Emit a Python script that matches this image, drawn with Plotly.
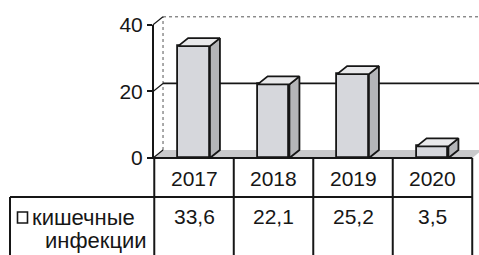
import plotly.graph_objects as go

# ---- data ----
years = ["2017", "2018", "2019", "2020"]
values = [33.6, 22.1, 25.2, 3.5]
value_labels = ["33,6", "22,1", "25,2", "3,5"]
series_lines = ["кишечные", "инфекции"]
y_ticks = [0, 20, 40]

# ---- geometry (pixels / axis units) ----
W, H = 479, 255
L, R, T, B = 153, 0, 8, 95
XR = [-0.516, 3.585]
YR = [-0.6, 45.05]
DX = 0.126      # 3-D depth, x units
DY = 2.4        # 3-D depth, value units
BW = 0.4        # bar width

PW, PH = W - L - R, H - T - B


def pxx(px):
    return (px - L) / PW


def pxy(py):
    return (H - B - py) / PH


def xpaper(x):
    return (x - XR[0]) / (XR[1] - XR[0])


def ypaper(v):
    return (v - YR[0]) / (YR[1] - YR[0])


FONT = "Liberation Sans, Arial, sans-serif"
INK = "#161616"
FRONT = "#d6d7dc"
SIDE = "#b4b5b8"
TOP = "#e9e9eb"
FLOOR = "#c9c9cb"

xs = list(range(len(years)))

fig = go.Figure()

# front faces
fig.add_trace(go.Bar(
    x=xs, y=values, width=BW,
    marker=dict(color=FRONT, line=dict(color=INK, width=1.8)),
    hoverinfo="skip", showlegend=False,
))

# side and top faces
for x, v in zip(xs, values):
    xr = x + BW / 2
    xl = x - BW / 2
    fig.add_trace(go.Scatter(
        x=[xr, xr + DX, xr + DX, xr, xr],
        y=[0, DY, v + DY, v, 0],
        fill="toself", fillcolor=SIDE, mode="lines",
        line=dict(color=INK, width=1.8), hoverinfo="skip", showlegend=False,
    ))
    fig.add_trace(go.Scatter(
        x=[xl, xl + DX, xr + DX, xr, xl],
        y=[v, v + DY, v + DY, v, v],
        fill="toself", fillcolor=TOP, mode="lines",
        line=dict(color=INK, width=1.8), hoverinfo="skip", showlegend=False,
    ))

shapes = []
x0 = XR[0]
xend = XR[1]
# floor
shapes.append(dict(type="path", layer="below", xref="x", yref="y",
                   path=f"M {x0},0 L {3.5},0 L {3.5 + DX},{DY} L {x0 + DX},{DY} Z",
                   fillcolor=FLOOR, line=dict(width=0)))
# back wall dashed borders
shapes.append(dict(type="line", layer="below", xref="x", yref="y",
                   x0=x0 + DX, x1=xend, y0=40 + DY, y1=40 + DY,
                   line=dict(color="#555", width=1, dash="dot")))
shapes.append(dict(type="line", layer="below", xref="x", yref="y",
                   x0=x0 + DX, x1=x0 + DX, y0=DY, y1=40 + DY,
                   line=dict(color="#555", width=1, dash="dot")))
# gridline at 20
shapes.append(dict(type="line", layer="below", xref="x", yref="y",
                   x0=x0 + DX, x1=xend, y0=20 + DY, y1=20 + DY,
                   line=dict(color=INK, width=1.6)))
# diagonal tick connectors
for t in y_ticks:
    shapes.append(dict(type="line", layer="below", xref="x", yref="y",
                       x0=x0, x1=x0 + DX, y0=t, y1=t + DY,
                       line=dict(color=INK, width=1.2)))
# y axis line
shapes.append(dict(type="line", xref="paper", yref="y", x0=0, x1=0, y0=0, y1=40,
                   line=dict(color=INK, width=2)))

# ---- data table ----
col_edges = [xpaper(-0.5 + i) for i in range(len(years) + 1)]
y_top = ypaper(0)
y_mid = pxy(197)
y_bot = pxy(262)
x_left = pxx(10)
lw = 2
# horizontal lines
shapes.append(dict(type="line", xref="paper", yref="paper", x0=pxx(152), x1=col_edges[-1],
                   y0=y_top, y1=y_top, line=dict(color=INK, width=lw)))
shapes.append(dict(type="line", xref="paper", yref="paper", x0=x_left, x1=col_edges[-1],
                   y0=y_mid, y1=y_mid, line=dict(color=INK, width=lw)))
# vertical lines
for ce in col_edges:
    shapes.append(dict(type="line", xref="paper", yref="paper", x0=ce, x1=ce,
                       y0=y_top, y1=y_bot, line=dict(color=INK, width=lw)))
shapes.append(dict(type="line", xref="paper", yref="paper", x0=x_left, x1=x_left,
                   y0=y_mid, y1=y_bot, line=dict(color=INK, width=lw)))
# legend key
shapes.append(dict(type="rect", xref="paper", yref="paper",
                   x0=pxx(17.5), x1=pxx(27.5), y0=pxy(223), y1=pxy(212),
                   fillcolor="white", line=dict(color=INK, width=1.6)))

annotations = []
for i, (yr, vl) in enumerate(zip(years, value_labels)):
    cx = (col_edges[i] + col_edges[i + 1]) / 2
    annotations.append(dict(x=cx, y=pxy(178), xref="paper", yref="paper", text=yr,
                            showarrow=False, xanchor="center", yanchor="middle",
                            font=dict(family=FONT, size=21, color=INK)))
    annotations.append(dict(x=cx, y=pxy(216), xref="paper", yref="paper", text=vl,
                            showarrow=False, xanchor="center", yanchor="middle",
                            font=dict(family=FONT, size=21, color=INK)))
annotations.append(dict(x=pxx(30), y=pxy(217), xref="paper", yref="paper", text=series_lines[0],
                        showarrow=False, xanchor="left", yanchor="middle",
                        font=dict(family=FONT, size=22, color=INK)))
annotations.append(dict(x=pxx(149), y=pxy(255), xref="paper", yref="paper", text=series_lines[1],
                        showarrow=False, xanchor="right", yanchor="bottom",
                        font=dict(family=FONT, size=22, color=INK)))

fig.update_layout(
    width=W, height=H,
    margin=dict(l=L, r=R, t=T, b=B, pad=0),
    paper_bgcolor="white", plot_bgcolor="rgba(0,0,0,0)",
    showlegend=False,
    xaxis=dict(range=XR, visible=False, fixedrange=True),
    yaxis=dict(range=YR, tickvals=y_ticks, ticktext=[str(t) for t in y_ticks],
               showgrid=False, zeroline=False, showline=False,
               ticks="outside", ticklen=5, tickwidth=1.5, tickcolor=INK,
               tickfont=dict(family=FONT, size=21, color=INK), fixedrange=True),
    shapes=shapes,
    annotations=annotations,
    bargap=0,
)

fig.write_html(
    "out.html",
    config={"displayModeBar": False},
    post_script="document.body.style.margin='0px';document.body.style.overflow='hidden';",
)
